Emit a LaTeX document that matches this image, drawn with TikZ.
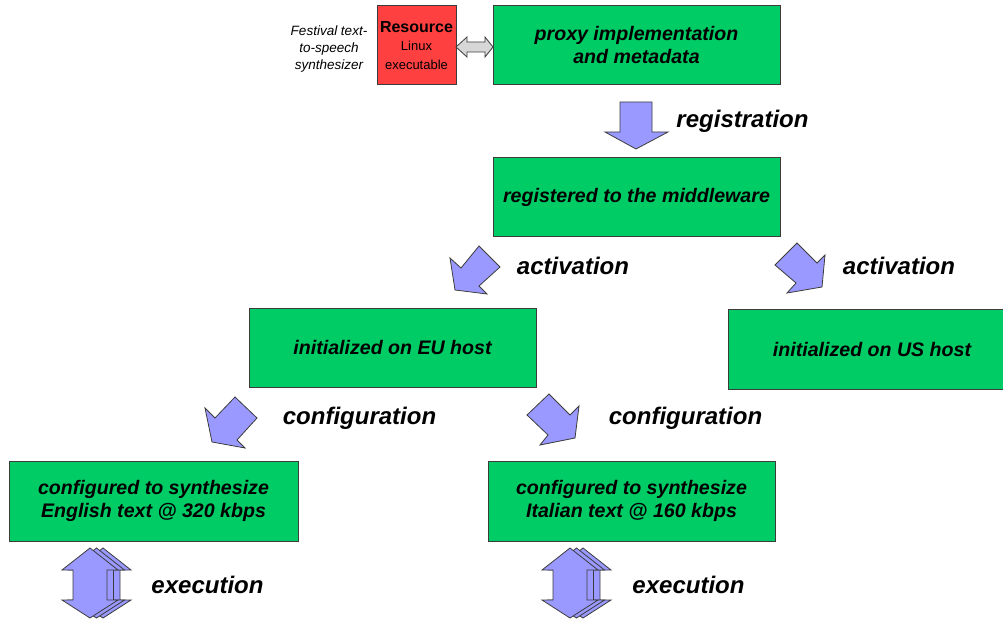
\documentclass[tikz,border=0pt]{standalone}
\usepackage{fontspec}
\setmainfont{Liberation Sans}
\definecolor{boxgreen}{RGB}{0,204,102}
\definecolor{resred}{RGB}{255,64,64}
\definecolor{arrowblue}{RGB}{153,153,255}
\definecolor{edgegray}{RGB}{60,60,60}
\definecolor{linkgray}{RGB}{215,215,215}

\begin{document}
\begin{tikzpicture}[x=1pt,y=-1pt,
  stagebox/.style={draw=edgegray, line width=1pt, fill=boxgreen,
    minimum width=287pt, minimum height=79pt, align=center, inner sep=0pt,
    font=\fontsize{19.6}{23}\selectfont\bfseries\itshape},
  steplabel/.style={inner sep=0pt, font=\fontsize{24}{28}\selectfont\bfseries\itshape},
  blockarrow/.style={fill=arrowblue, draw=edgegray, line width=0.8pt, line join=miter},
  execarrow/.pic={
    \path[blockarrow] (0,-36) -- (28,-14) -- (17,-14) -- (17,16) -- (28,16)
      -- (0,34) -- (-28,16) -- (-17,16) -- (-17,-14) -- (-28,-14) -- cycle;
  }]
\useasboundingbox (0,0) rectangle (1003,620);
\clip (0,0) rectangle (1003,620);

% resource and its description
\node[draw=edgegray, line width=1pt, fill=resred, minimum width=79pt, minimum height=79pt,
  inner sep=0pt, align=center, font=\fontsize{13}{18.5}\selectfont] (res) at (416.5,45.5)
  {{\fontsize{16}{19}\selectfont\bfseries Resource}\\Linux\\executable};
\node[align=center, inner sep=0pt, font=\fontsize{13.5}{17}\selectfont\itshape] (fest) at (329,49)
  {Festival text-\\to-speech\\synthesizer};

% stages of the service
\node[stagebox] (proxy) at (636.5,45.5) {proxy implementation\\and metadata};
\node[stagebox] (reg) at (636.5,197.5) {registered to the middleware};
\node[stagebox] (eu) at (392.5,347.5) {initialized on EU host};
\node[stagebox, minimum width=288pt, minimum height=80pt] (us) at (872,349) {initialized on US host};
\node[stagebox, minimum width=289pt, minimum height=80pt] (en) at (153.5,501)
  {configured to synthesize\\English text @ 320 kbps};
\node[stagebox, minimum width=287pt, minimum height=80pt] (it) at (631.5,501)
  {configured to synthesize\\Italian text @ 160 kbps};

% link between resource and proxy
\path[fill=linkgray, draw=edgegray, line width=0.8pt]
  (456,47) -- (467,37) -- (467,42) -- (485,42) -- (485,37) -- (493,47)
  -- (485,57) -- (485,52) -- (467,52) -- (467,57) -- cycle;

% registration
\path[blockarrow] (620,102) -- (652,102) -- (652,132) -- (668,132) -- (636,149)
  -- (605,132) -- (620,132) -- cycle;
\node[steplabel] (lreg) at (742.5,121) {registration};

% activation
\path[blockarrow] (450,258) -- (461,268) -- (479,246) -- (500,267) -- (479,286)
  -- (487,294) -- (455,290) -- cycle;
\node[steplabel] (lact1) at (573,266) {activation};
\path[blockarrow] (775,265) -- (797,243) -- (817,263) -- (825,255) -- (822,287)
  -- (787,293) -- (796,283) -- cycle;
\node[steplabel] (lact2) at (899,266) {activation};

% configuration
\path[blockarrow] (205,408) -- (215,418) -- (235,397) -- (257,418) -- (237,440)
  -- (245,448) -- (212,442) -- cycle;
\node[steplabel] (lconf1) at (359.5,418) {configuration};
\path[blockarrow] (527,415) -- (549,394) -- (570,415) -- (579,406) -- (575,438)
  -- (540,445) -- (548,435) -- cycle;
\node[steplabel] (lconf2) at (685.5,418) {configuration};

% execution, stacked arrows
\foreach \cx in {90,570}{
  \pic at (\cx+13,584) {execarrow};
  \pic at (\cx+6.5,584) {execarrow};
  \pic at (\cx,584) {execarrow};
}
\node[steplabel] (lexe1) at (207.5,585) {execution};
\node[steplabel] (lexe2) at (688.5,585) {execution};
\end{tikzpicture}
\end{document}
